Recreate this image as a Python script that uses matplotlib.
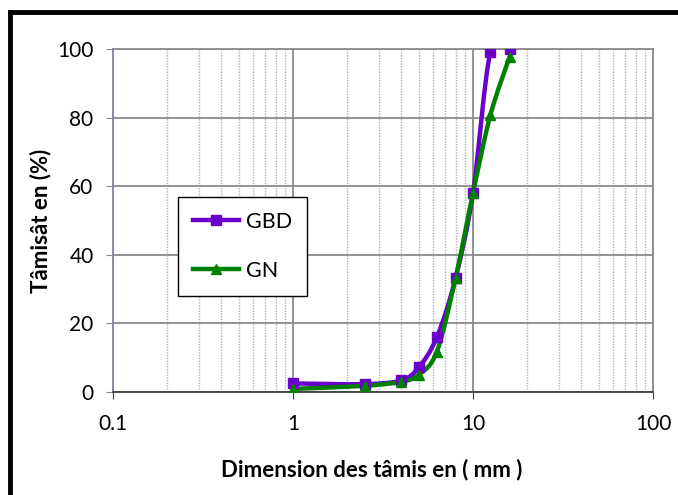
import numpy as np
import matplotlib
matplotlib.use("Agg")
import matplotlib.pyplot as plt
from matplotlib.path import Path
from matplotlib.patches import PathPatch
from matplotlib.lines import Line2D
from matplotlib.ticker import FixedLocator, NullFormatter

###############################################################################
# Donnees
###############################################################################
tamis = [1, 2.5, 4, 5, 6.3, 8, 10, 12.5, 16]
gbd = [2.5, 2.3, 3.4, 7.2, 16, 33.2, 58, 99, 100]
gn = [0.9, 1.8, 3.0, 5.0, 11.8, 33.2, 58, 80.8, 97.8]
series_noms = ["GBD", "GN"]
series_couleurs = ["#6A00CC", "#008000"]
series_marqueurs = ["s", "^"]
xticks = [0.1, 1, 10, 100]
xtick_labels = ["0.1", "1", "10", "100"]
yticks = [0, 20, 40, 60, 80, 100]

plt.rcParams['font.family'] = ['Lato', 'DejaVu Sans']


###############################################################################
# courbe lissee (style Excel) : Bezier dans l'espace log(x)
###############################################################################
def CheminLisse(x, y):
    lx = np.log10(x)
    y = np.asarray(y, dtype=float)
    n = len(lx)
    verts = [(x[0], y[0])]
    codes = [Path.MOVETO]
    for i in range(n - 1):
        p0 = (lx[max(i - 1, 0)], y[max(i - 1, 0)])
        p1 = (lx[i], y[i])
        p2 = (lx[i + 1], y[i + 1])
        p3 = (lx[min(i + 2, n - 1)], y[min(i + 2, n - 1)])
        c1 = (p1[0] + (p2[0] - p0[0]) / 6, p1[1] + (p2[1] - p0[1]) / 6)
        c2 = (p2[0] - (p3[0] - p1[0]) / 6, p2[1] - (p3[1] - p1[1]) / 6)
        for c in (c1, c2, p2):
            verts.append((10 ** c[0], c[1]))
            codes.append(Path.CURVE4)
    return Path(verts, codes)


fig = plt.figure(figsize=(6.78, 4.95), dpi=100)
ax = fig.add_axes([0.1667, 0.2081, 0.7964, 0.6929])

for yy, nom, col, mk in zip([gbd, gn], series_noms, series_couleurs, series_marqueurs):
    ax.add_patch(PathPatch(CheminLisse(tamis, yy), fill=False, edgecolor=col,
                           lw=3.2, capstyle='round', joinstyle='round', zorder=3))
    ax.plot(tamis, yy, linestyle='none', marker=mk, color=col, markersize=7.5, zorder=4)

ax.set_xscale('log')
ax.set_xlim(0.1, 100)
ax.set_ylim(0, 100)
ax.xaxis.set_major_locator(FixedLocator(xticks))
ax.set_xticklabels(xtick_labels)
ax.xaxis.set_minor_formatter(NullFormatter())
ax.set_yticks(yticks)

ax.grid(True, which='major', color='#8a8a8a', lw=1.3, zorder=0)
ax.grid(True, which='minor', axis='x', color='#b0b0b0', lw=1.0, linestyle=(0, (1, 1)), zorder=0)
ax.set_axisbelow(True)

ax.tick_params(axis='both', which='major', labelsize=15, direction='out', length=5)
ax.tick_params(axis='x', which='minor', length=0)
ax.tick_params(axis='y', colors='#8088aa', labelcolor='black', pad=9)
ax.tick_params(axis='x', colors='#404040', labelcolor='black', pad=11)

ax.spines['left'].set_color('#8088aa')
ax.spines['bottom'].set_color('#404040')
ax.spines['top'].set_color('#8a8a8a')
ax.spines['right'].set_color('#8a8a8a')
for s in ax.spines.values():
    s.set_linewidth(1.3)

ax.set_xlabel("Dimension des tâmis en ( mm )", fontsize=16, fontweight='bold')
ax.set_ylabel("Tâmisât en (%)", fontsize=16, fontweight='bold')
ax.xaxis.set_label_coords(0.479, -0.195)
ax.yaxis.set_label_coords(-0.115, 0.5)

handles = [Line2D([], [], color=c, marker=m, lw=3.2, markersize=7.5)
           for c, m in zip(series_couleurs, series_marqueurs)]
leg = ax.legend(handles, series_noms, loc='upper left', bbox_to_anchor=(0.121, 0.569),
                fontsize=15.5, frameon=True, fancybox=False, labelspacing=1.35,
                handlelength=2.1, borderpad=0.7, handletextpad=0.35, borderaxespad=0)
leg.get_frame().set_edgecolor('black')
leg.get_frame().set_linewidth(1.0)
leg.get_frame().set_alpha(1)

# cadre noir epais (coin haut-gauche visible)
fig.add_artist(Line2D([0.0147, 0.0147], [0.0, 0.9758], color='black', lw=3.5,
                      solid_capstyle='projecting'))
fig.add_artist(Line2D([0.0147, 1.0], [0.9758, 0.9758], color='black', lw=3.5,
                      solid_capstyle='projecting'))

fig.savefig("out.png", dpi=100)
